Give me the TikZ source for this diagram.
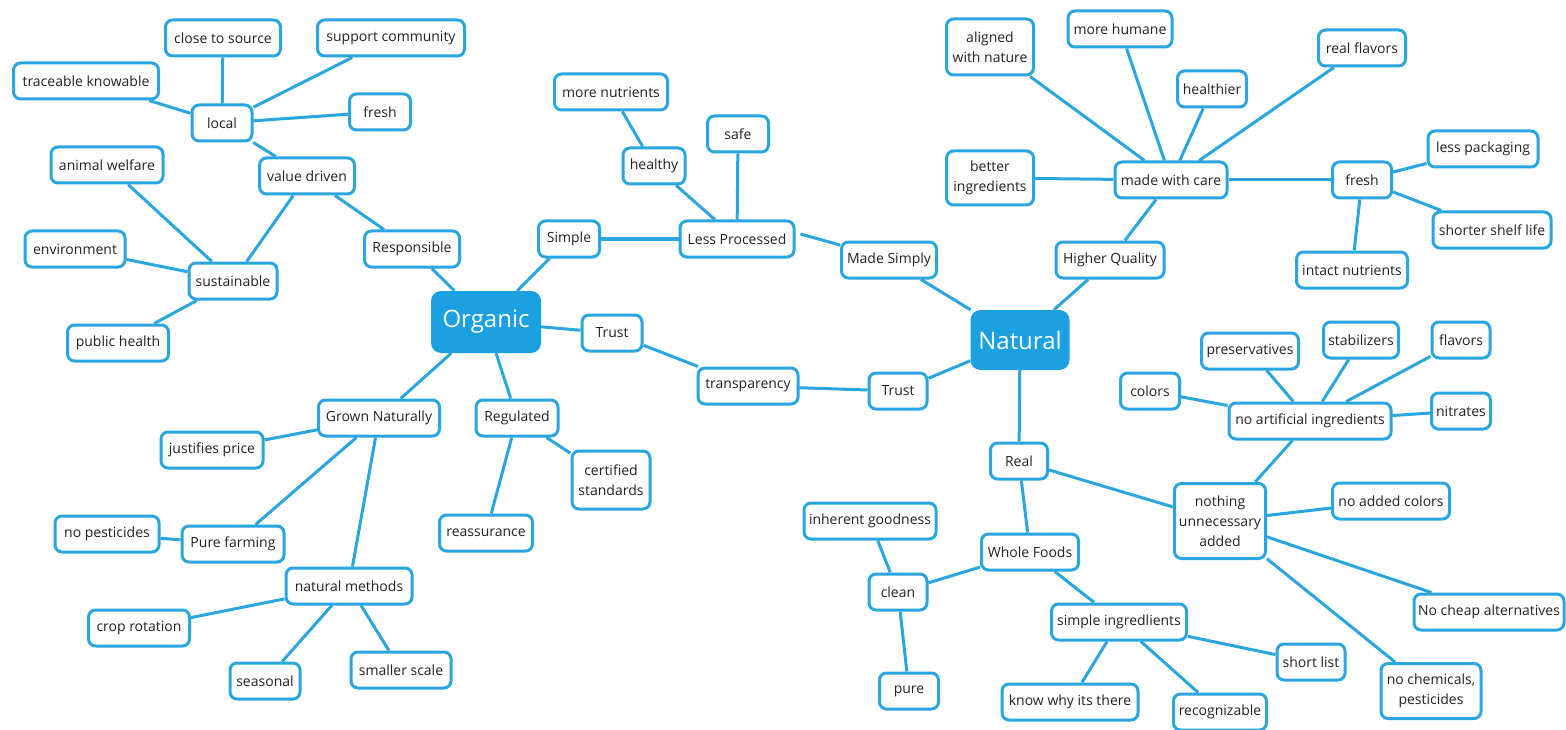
\documentclass[tikz,border=0pt]{standalone}
\usepackage{fontspec}
\setmainfont{Open Sans}
\definecolor{edgec}{RGB}{41,165,224}
\definecolor{mainc}{RGB}{27,161,226}
\definecolor{txtc}{RGB}{34,34,34}
\begin{document}
\begin{tikzpicture}[x=1pt,y=-1pt,
  bx/.style={draw=edgec,line width=3pt,fill=white,rounded corners=7pt,
    minimum height=36pt,minimum width=#1pt-3pt,inner sep=1pt,align=center,
    text=txtc,font=\fontsize{14}{20}\selectfont},
  bx/.default=60,
  big/.style={draw=none,fill=mainc,rounded corners=10pt,minimum width=#1pt,
    minimum height=62pt,text=white,font=\fontsize{24}{28}\selectfont},
  cn/.style={draw=edgec,line width=3pt}]
\useasboundingbox (0,0) rectangle (1566,730);
% ---- Organic side
\node[big=110] (org) at (486,322) {Organic};
\node[bx=118] (cts) at (223,38) {close to source};
\node[bx=150] (sc) at (391,38) {support community};
\node[bx=148] (tk) at (86,81) {traceable knowable};
\node[bx=63] (loc) at (222,123) {local};
\node[bx=64] (fr1) at (380,112) {fresh};
\node[bx=115] (aw) at (107,165) {animal welfare};
\node[bx=98] (vd) at (307,176) {value driven};
\node[bx=103] (env) at (75,249) {environment};
\node[bx=91] (sus) at (233,281) {sustainable};
\node[bx=98] (resp) at (412,249) {Responsible};
\node[bx=104] (ph) at (118,343) {public health};
\node[bx=124] (gn) at (379,418) {Grown Naturally};
\node[bx=85] (reg) at (517,418) {Regulated};
\node[bx=105] (jp) at (212,450) {justifies price};
\node[bx=81,minimum height=58pt] (cs) at (611,480) {certified\\standards};
\node[bx=107] (np) at (107,534) {no pesticides};
\node[bx=105] (pf) at (233,544) {Pure farming};
\node[bx=96] (rea) at (486,533) {reassurance};
\node[bx=129] (nm) at (349,586) {natural methods};
\node[bx=104] (cr) at (139,628) {crop rotation};
\node[bx=73] (sea) at (265,681) {seasonal};
\node[bx=103] (ss) at (401,670) {smaller scale};
% ---- middle
\node[bx=116] (mn) at (611,92) {more nutrients};
\node[bx=64] (safe) at (738,134) {safe};
\node[bx=65] (hy) at (654,166) {healthy};
\node[bx=64] (sim) at (569,239) {Simple};
\node[bx=117] (lp) at (737,239) {Less Processed};
\node[bx=98] (ms) at (889,260) {Made Simply};
\node[bx=63] (tr1) at (612,333) {Trust};
\node[bx=103] (tra) at (748,386) {transparency};
\node[bx=61] (tr2) at (898,391) {Trust};
\node[big=99,minimum height=60pt] (nat) at (1020,340) {Natural};
% ---- Natural top
\node[bx=90,minimum height=56pt] (awn) at (990,47) {aligned\\with nature};
\node[bx=107] (mh) at (1120,29) {more humane};
\node[bx=72] (hr) at (1212,89) {healthier};
\node[bx=90] (rf) at (1362,48) {real flavors};
\node[bx=90,minimum height=54pt] (bi) at (990,178) {better\\ingredients};
\node[bx=115] (mwc) at (1171,180) {made with care};
\node[bx=62] (fr2) at (1362,180) {fresh};
\node[bx=113] (lpk) at (1483,149) {less packaging};
\node[bx=121] (ssl) at (1492,230) {shorter shelf life};
\node[bx=114] (in) at (1352,270) {intact nutrients};
\node[bx=111] (hq) at (1110,260) {Higher Quality};
% ---- Natural bottom
\node[bx=100] (pre) at (1250,351) {preservatives};
\node[bx=78] (stb) at (1361,340) {stabilizers};
\node[bx=61] (fla) at (1461,340) {flavors};
\node[bx=62] (col) at (1150,391) {colors};
\node[bx=165] (nai) at (1310,421) {no artificial ingredients};
\node[bx=62] (nit) at (1461,411) {nitrates};
\node[bx=60] (real) at (1019,461) {Real};
\node[bx=94,minimum height=75pt] (nua) at (1220,521) {nothing\\unnecessary\\added};
\node[bx=120] (nac) at (1391,501) {no added colors};
\node[bx=153] (nca) at (1489,612) {No cheap alternatives};
\node[bx=103,minimum height=55pt] (nch) at (1431,691) {no chemicals,\\pesticides};
\node[bx=135] (ig) at (870,521) {inherent goodness};
\node[bx=100] (wf) at (1030,552) {Whole Foods};
\node[bx=61] (cl) at (898,592) {clean};
\node[bx=138] (si) at (1119,622) {simple ingredlients};
\node[bx=71] (sl) at (1311,662) {short list};
\node[bx=62] (pu) at (909,691) {pure};
\node[bx=139] (kw) at (1070,702) {know why its there};
\node[bx=96] (rec) at (1220,712) {recognizable};
% ---- connectors
\foreach \a/\b in {loc/cts,loc/sc,loc/tk,loc/fr1,loc/vd,vd/sus,vd/resp,
  sus/aw,sus/env,sus/ph,resp/org,org/gn,org/reg,gn/jp,gn/pf,gn/nm,pf/np,
  nm/cr,nm/sea,nm/ss,reg/rea,reg/cs,org/sim,sim/lp,lp/hy,hy/mn,lp/safe,
  ms/nat,org/tr1,tr1/tra,tra/tr2,tr2/nat,mwc/awn,mwc/mh,mwc/hr,mwc/rf,
  mwc/bi,mwc/fr2,fr2/lpk,fr2/ssl,fr2/in,mwc/hq,hq/nat,nat/real,real/nua,
  real/wf,nua/nai,nai/col,nai/pre,nai/stb,nai/fla,nai/nit,nua/nac,nua/nca,
  nua/nch,wf/cl,cl/ig,cl/pu,wf/si,si/sl,si/kw,si/rec}
  \draw[cn] (\a) -- (\b);
\draw[cn] ([xshift=5pt,yshift=5pt]lp.east) -- ([yshift=15pt]ms.west);
\end{tikzpicture}
\end{document}
